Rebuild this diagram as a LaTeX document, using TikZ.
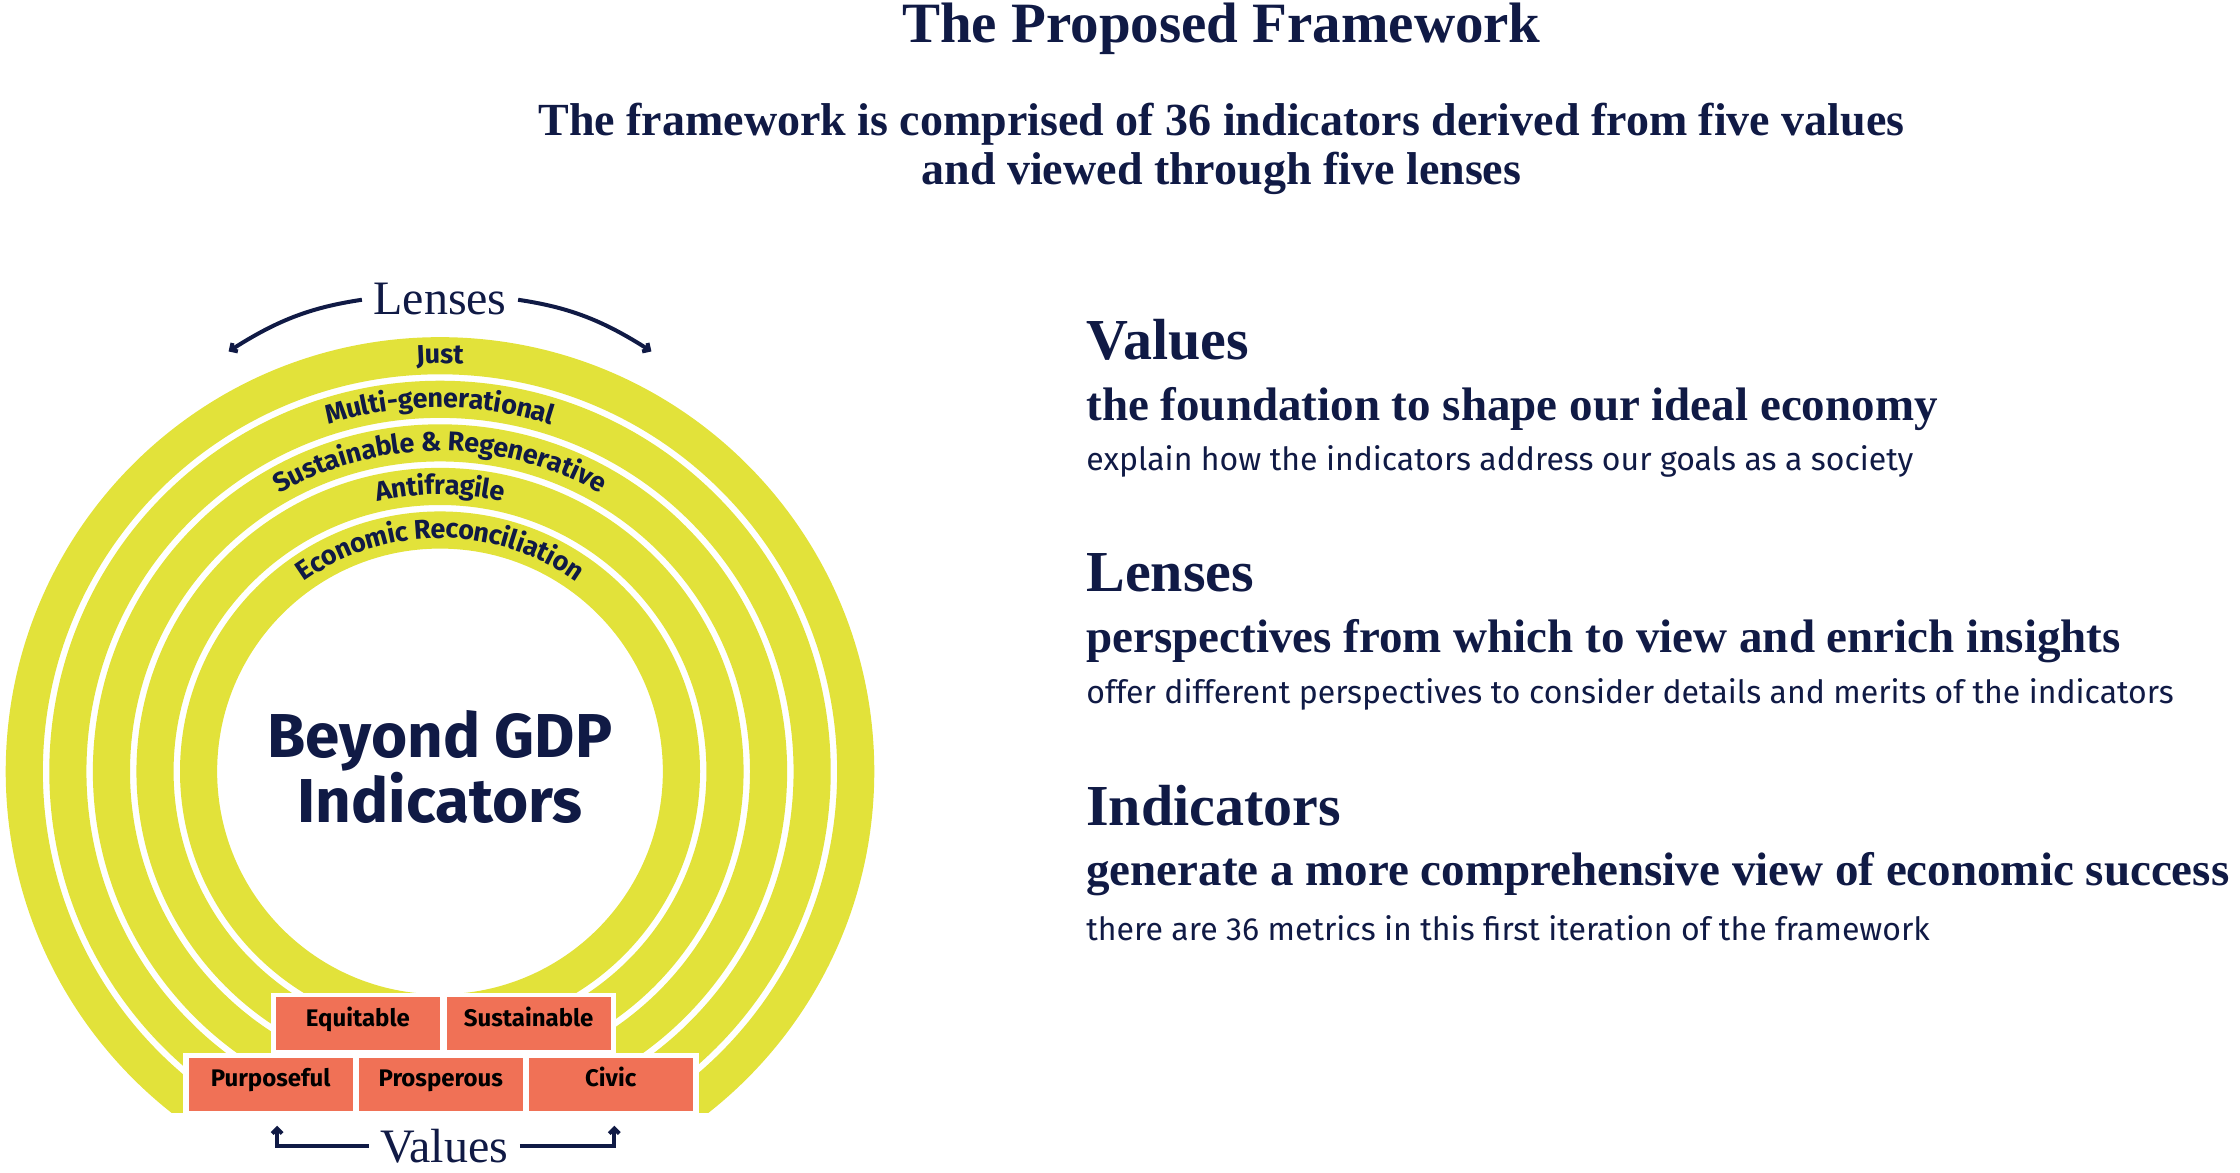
\documentclass[tikz,border=0pt]{standalone}
\usepackage{fontspec}
\setmainfont{Liberation Serif}
\newfontfamily\fira{Fira Sans}
\usetikzlibrary{positioning,arrows.meta,decorations.text}
\definecolor{navy}{HTML}{101A45}
\definecolor{lensyellow}{HTML}{E2E23A}
\definecolor{valorange}{HTML}{F07156}
\newcommand{\ringfont}{\fira\bfseries\fontsize{27}{27}\selectfont}
\tikzset{>={Straight Barb[length=5pt,width=10pt]}}
\tikzset{
  valbox/.style={fill=valorange,minimum width=164pt,minimum height=53pt,inner sep=0pt,
                 text height=0.72em,text depth=0.22em,
                 font=\fira\bfseries\fontsize{24}{24}\selectfont},
  ringtext/.style={decorate,decoration={text along path,text align=center,raise=-8pt,
                 text color=navy,text={|\ringfont|#1}}},
  head/.style={anchor=west,text=navy,font=\bfseries\fontsize{58}{58}\selectfont},
  sub/.style={anchor=west,text=navy,font=\bfseries\fontsize{47}{47}\selectfont},
  small/.style={anchor=west,text=navy,font=\fira\fontsize{32}{32}\selectfont},
}
\newcommand{\ringlabel}[2]{\path[ringtext={#2}] (308,-540) ++(165:#1) arc[start angle=165,end angle=15,radius=#1];}
\begin{document}
\begin{tikzpicture}[x=1.4286pt,y=1.4286pt]
  \useasboundingbox (0,0) rectangle (1568,-820.4);
  % heading
  \node[text=navy,font=\bfseries\fontsize{57}{57}\selectfont] (title) at (855,-20) {The Proposed Framework};
  \node[text=navy,align=center,font=\bfseries\fontsize{46}{49}\selectfont] (intro) at (855,-104)
    {The framework is comprised of 36 indicators derived from five values\\and viewed through five lenses};
  % lenses
  \begin{scope}
    \clip (0,-779) rectangle (620,-200);
    \foreach \r in {304,273.5,243,212.5,182}
      \fill[lensyellow,even odd rule] (308,-540) circle (\r) circle (\r-26);
  \end{scope}
  \ringlabel{291}{Just}
  \ringlabel{260.5}{Multi-generational}
  \ringlabel{230}{Sustainable {\&} Regenerative}
  \ringlabel{199.5}{Antifragile}
  \ringlabel{169}{Economic Reconciliation}
  \node[text=navy,align=center,font=\fira\bfseries\fontsize{62}{57}\selectfont] (core) at (308,-537)
    {Beyond GDP\\Indicators};
  \node[text=navy,font=\fontsize{48}{48}\selectfont] (lenses) at (308,-209) {Lenses};
  \coordinate (lensL) at (160,-246);
  \coordinate (lensR) at (456,-246);
  \draw[->,navy,line width=4pt,shorten <=8pt] (lenses.west) to[bend right=12] (lensL);
  \draw[->,navy,line width=4pt,shorten <=8pt] (lenses.east) to[bend left=12] (lensR);
  % values
  \fill[white] (190,-695) rectangle (431,-740);
  \fill[white] (128,-737) rectangle (489,-781);
  \node[valbox] (equit) at (250.5,-716.5) {Equitable};
  \node[valbox] (sust) at (370,-716.5) {Sustainable};
  \node[valbox] (purp) at (189.5,-759) {Purposeful};
  \node[valbox] (prosp) at (308.5,-759) {Prosperous};
  \node[valbox] (civic) at (427.5,-759) {Civic};
  \node[text=navy,font=\fontsize{48}{48}\selectfont] (values) at (311,-802) {Values};
  \coordinate (valL) at (194,-788);
  \coordinate (valR) at (430,-788);
  \draw[->,navy,line width=4pt,shorten <=8pt] (values.west) -| (valL);
  \draw[->,navy,line width=4pt,shorten <=8pt] (values.east) -| (valR);
  % legend
  \node[head] (hvalues) at (758,-238) {Values};
  \node[sub] (svalues) at (758,-286) {the foundation to shape our ideal economy};
  \node[small] (tvalues) at (758,-323) {explain how the indicators address our goals as a society};
  \node[head] (hlenses) at (758,-401) {Lenses};
  \node[sub] (slenses) at (758,-449) {perspectives from which to view and enrich insights};
  \node[small] (tlenses) at (758,-486) {offer different perspectives to consider details and merits of the indicators};
  \node[head] (hind) at (758,-564) {Indicators};
  \node[sub] (sind) at (758,-612) {generate a more comprehensive view of economic success};
  \node[small] (tind) at (758,-650) {there are 36 metrics in this first iteration of the framework};
\end{tikzpicture}
\end{document}
